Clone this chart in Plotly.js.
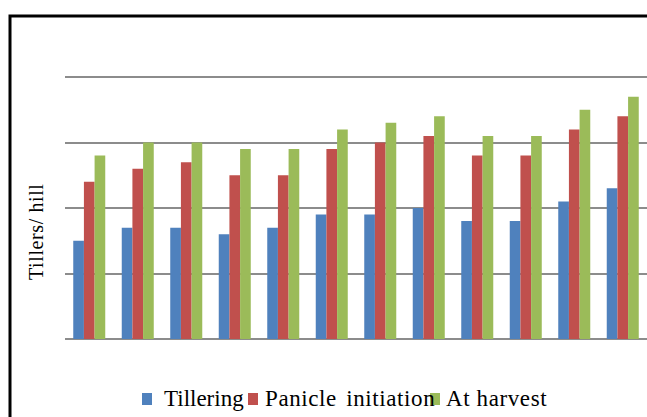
<!DOCTYPE html>
<html>
<head>
<meta charset="utf-8">
<script src="https://cdn.plot.ly/plotly-3.0.1.min.js"></script>
<style>html,body{margin:0;padding:0;background:#fff;}#chart{width:647px;height:417px;}</style>
</head>
<body>
<div id="chart"></div>
<script>
// Treatments (no tick labels shown in the original)
var categories = ["T1","T2","T3","T4","T5","T6","T7","T8","T9","T10","T11","T12"];
// Tillers per hill at each stage (estimated; gridlines every 5)
var tillering          = [7.5, 8.5, 8.5, 8.0, 8.5, 9.5, 9.5, 10.0, 9.0, 9.0, 10.5, 11.5];
var panicleInitiation  = [12.0, 13.0, 13.5, 12.5, 12.5, 14.5, 15.0, 15.5, 14.0, 14.0, 16.0, 17.0];
var atHarvest          = [14.0, 15.0, 15.0, 14.5, 14.5, 16.0, 16.5, 17.0, 15.5, 15.5, 17.5, 18.5];
var seriesNames = ["Tillering", "Panicle initiation", "At harvest"];
var yTitle = "Tillers/ hill";

var colors = ["#4f81bd", "#c0504d", "#9bbb59"];
var serif = "Liberation Serif";

var data = [tillering, panicleInitiation, atHarvest].map(function(vals, i){
  return {type:"bar", x:categories, y:vals, name:seriesNames[i], showlegend:false,
          marker:{color:colors[i], line:{width:0}}};
});

var L = 65, R = 0, T = 74, B = 78, W = 647, H = 417;
var pw = W - L - R, ph = H - T - B;
function px(x){ return (x - L) / pw; }
function py(y){ return (H - B - y) / ph; }
function spaced(s, ls, ws){ return '<span style="letter-spacing:' + ls + 'px;word-spacing:' + ws + 'px">' + s + '</span>'; }

// legend layout (pixel positions of the key swatches and labels)
var keyX = [142, 248, 430], textX = [162, 263, 444];
var letterSp = [0, 0.6, 0.6], wordSp = [0, 3, 0];
var shapes = [{type:"rect", xref:"paper", yref:"paper", x0:px(10), x1:px(660), y0:py(16), y1:py(430),
               line:{color:"#000", width:3}, fillcolor:"rgba(0,0,0,0)", layer:"above"}];
var annotations = [{text:spaced(yTitle, 0.6, 0), xref:"paper", yref:"paper", x:px(36), y:py(232),
                    textangle:-90, showarrow:false, xanchor:"center", yanchor:"middle",
                    font:{family:serif, size:20, color:"#000"}}];
seriesNames.forEach(function(n, i){
  shapes.push({type:"rect", xref:"paper", yref:"paper", x0:px(keyX[i]), x1:px(keyX[i]+10),
               y0:py(405), y1:py(393), line:{width:0}, fillcolor:colors[i]});
  annotations.push({text:spaced(n, letterSp[i], wordSp[i]), xref:"paper", yref:"paper", x:px(textX[i]), y:py(398),
                    xanchor:"left", yanchor:"middle", showarrow:false,
                    font:{family:serif, size:23, color:"#000"}});
});

var layout = {
  width: W, height: H,
  margin: {l:L, r:R, t:T, b:B, pad:0},
  paper_bgcolor: "#ffffff", plot_bgcolor: "#ffffff",
  font: {family: serif},
  barmode: "group", bargap: 0.34, bargroupgap: 0,
  showlegend: false,
  xaxis: {showticklabels:false, showgrid:false, zeroline:false, showline:false, ticks:"", fixedrange:true},
  yaxis: {range:[0,20.23], tickvals:[0,5,10,15,20], showticklabels:false, ticks:"", showgrid:true,
          gridcolor:"#8c8c8c", gridwidth:2, zeroline:true, zerolinecolor:"#8c8c8c",
          zerolinewidth:2, showline:false, fixedrange:true},
  annotations: annotations,
  shapes: shapes
};

Plotly.newPlot("chart", data, layout, {displayModeBar:false, staticPlot:true});
</script>
</body>
</html>
